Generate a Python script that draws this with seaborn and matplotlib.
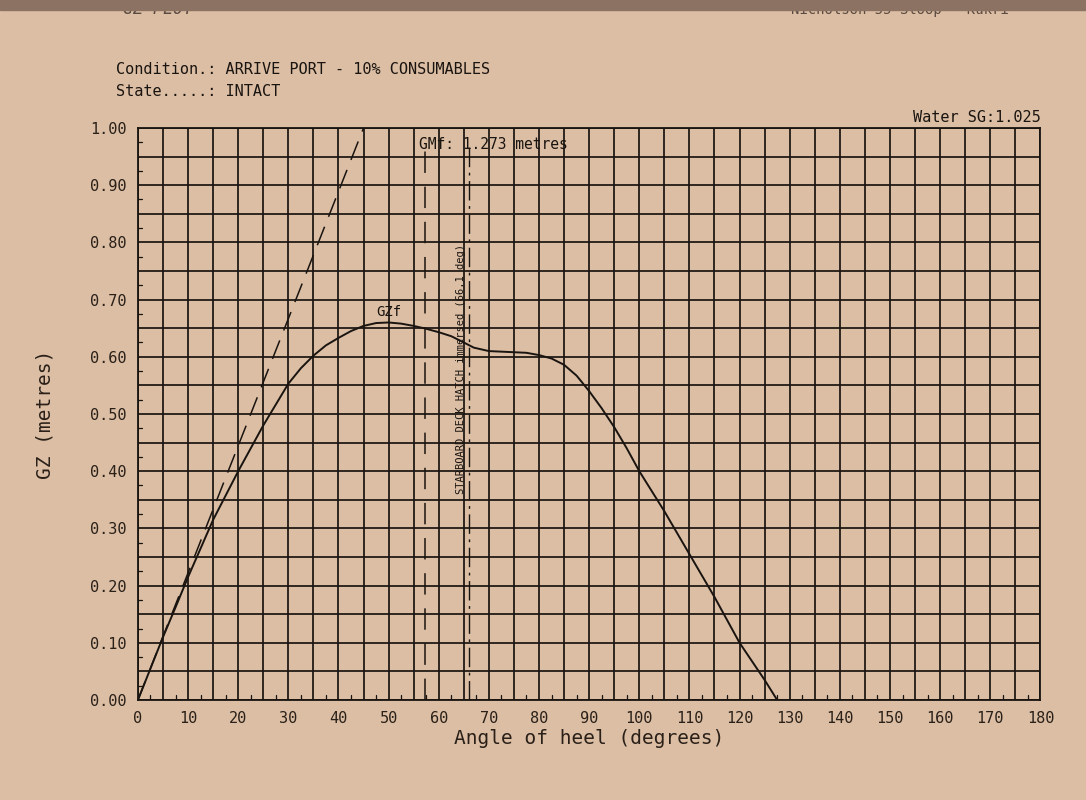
import numpy as np
import pandas as pd
import seaborn as sns
import matplotlib.pyplot as plt
from matplotlib.patches import Rectangle

# GZ curve (angle in degrees, GZ in metres)
heel = [0, 2.5, 5, 7.5, 10, 15, 20, 25, 30, 32.5, 35, 37.5, 40, 42.5, 45,
        47.5, 50, 52.5, 55, 57.5, 60, 62.5, 65, 67, 70, 72.5, 75, 77.5, 80,
        82.5, 85, 87.5, 90, 92.5, 95, 97.5, 100, 105, 110, 115, 120, 125,
        127.5]
gz = [0.0, 0.055, 0.11, 0.162, 0.215, 0.315, 0.40, 0.48, 0.553, 0.58, 0.602,
      0.62, 0.633, 0.645, 0.654, 0.659, 0.66, 0.658, 0.654, 0.649, 0.643,
      0.636, 0.625, 0.616, 0.61, 0.609, 0.608, 0.607, 0.603, 0.597, 0.586,
      0.567, 0.54, 0.51, 0.477, 0.44, 0.40, 0.33, 0.255, 0.18, 0.10, 0.035,
      0.0]

# initial GM tangent (GMf = 1.273 m reached at 1 radian)
gm_x = [0, 45.0]
gm_y = [0, 1.0]
gm_value = 1.273
radian_angle = 57.3
hatch_angle = 66.1

x_ticks = list(range(0, 181, 10))
y_ticks = [0.0, 0.1, 0.2, 0.3, 0.4, 0.5, 0.6, 0.7, 0.8, 0.9, 1.0]

paper = '#dbbea4'
ink = '#1a1410'
sns.set_theme(style='ticks')
plt.rcParams['font.family'] = ['DejaVu Sans Mono', 'DejaVu Sans']

df = pd.DataFrame({'heel': heel, 'gz': gz})

fig = plt.figure(figsize=(10.86, 8), dpi=100, facecolor=paper)
ax = fig.add_axes([0.127, 0.125, 0.831, 0.715])
ax.set_facecolor(paper)

sns.lineplot(data=df, x='heel', y='gz', ax=ax, color=ink, lw=1.4, zorder=5)
ax.plot(gm_x, gm_y, color=ink, lw=1.1, dashes=(13, 7), zorder=4)
ax.plot([radian_angle, radian_angle], [0, 0.985], color=ink, lw=1.1,
        dashes=(14, 9), zorder=4)
ax.plot([hatch_angle, hatch_angle], [0, 0.97], color=ink, lw=1.0,
        dashes=(14, 4, 2, 4), zorder=4)

# grid every 5 degrees / 0.05 m
ax.set_xlim(0, 180)
ax.set_ylim(0, 1.0)
ax.set_xticks(x_ticks)
ax.set_xticklabels([str(t) for t in x_ticks])
ax.set_yticks(y_ticks)
ax.set_yticklabels([f'{t:.2f}' for t in y_ticks])
ax.set_xticks(np.arange(0, 181, 5), minor=True)
ax.set_yticks(np.arange(0, 1.001, 0.05), minor=True)
ax.grid(which='both', color=ink, lw=1.25)
ax.tick_params(which='major', length=0, pad=8, labelsize=11, colors='#2a2018')
ax.tick_params(which='minor', length=0)
for s in ax.spines.values():
    s.set_color(ink)
    s.set_linewidth(1.3)

# small inner ticks at half-grid spacing
for xv in np.arange(2.5, 180, 5):
    ax.plot([xv, xv], [0, 0.008], color=ink, lw=0.9, zorder=3)
for yv in np.arange(0.025, 1.0, 0.05):
    ax.plot([0, 0.9], [yv, yv], color=ink, lw=0.9, zorder=3)

ax.set_xlabel('Angle of heel (degrees)', fontsize=14, color='#2a2018', labelpad=2)
ax.set_ylabel('GZ (metres)', fontsize=14, color='#2a2018', labelpad=26)

ax.text(50, 0.666, 'GZf', fontsize=10, ha='center', va='bottom', color=ink)
ax.text(radian_angle - 1.3, 0.985, f'GMf: {gm_value:.3f} metres', fontsize=10.5,
        ha='left', va='top', color=ink)
ax.text(hatch_angle - 1.6, 0.36, f'STARBOARD DECK HATCH immersed ({hatch_angle} deg)',
        fontsize=7.5, rotation=90, ha='center', va='bottom', color=ink)
ax.text(1.0, 1.005, 'Water SG:1.025', transform=ax.transAxes, fontsize=11,
        ha='right', va='bottom', color=ink)

fig.text(0.107, 0.908, 'Condition.: ARRIVE PORT - 10% CONSUMABLES', fontsize=11,
         color=ink)
fig.text(0.107, 0.88, 'State.....: INTACT', fontsize=11, color=ink)
fig.text(0.113, 0.983, 'GZ PLOT', fontsize=12, color='#5a4a40', style='italic')
fig.text(0.728, 0.983, 'Nicholson 55 Sloop - Kukri', fontsize=10, color='#5a4a40')
fig.patches.append(Rectangle((0, 0.988), 1, 0.012, transform=fig.transFigure,
                             color='#8c7262', zorder=10))

fig.savefig('out.png', dpi=100, facecolor=paper)
